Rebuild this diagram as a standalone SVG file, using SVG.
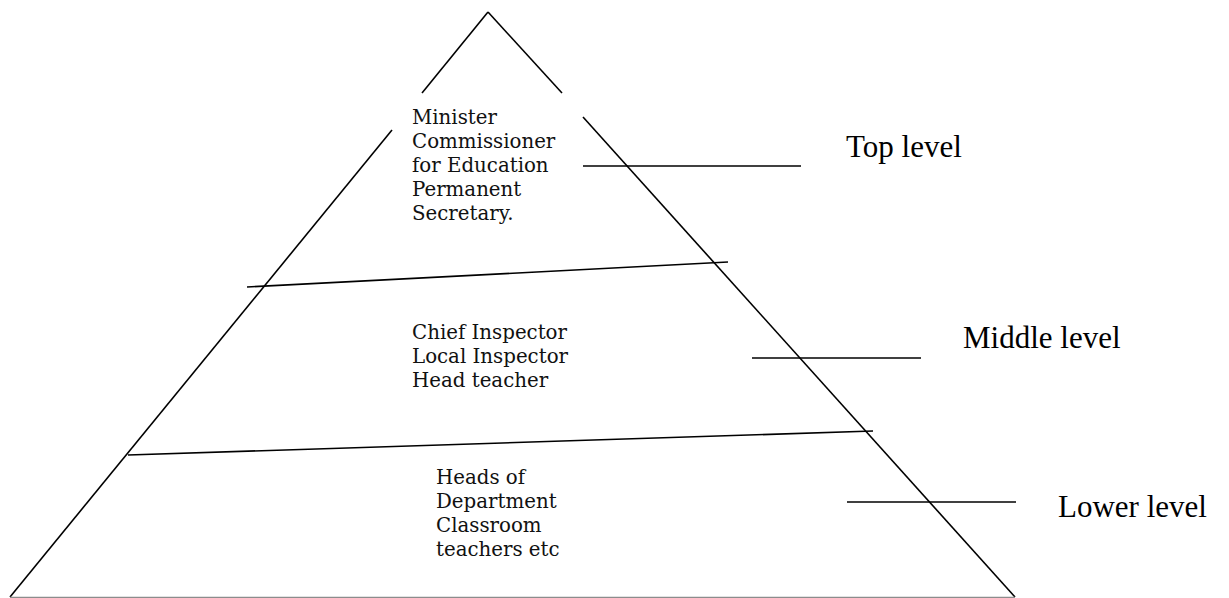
<svg xmlns="http://www.w3.org/2000/svg" width="1229" height="598" viewBox="0 0 1229 598">
  <style>
    .edge { stroke: #000; stroke-width: 1.6; fill: none; stroke-linecap: butt; }
    .base { stroke: #8c8c8c; stroke-width: 1.2; fill: none; }
    .roles { font-family: "DejaVu Serif", "Liberation Serif", serif; font-size: 19.8px; fill: #111; }
    .level { font-family: "Liberation Serif", "Times New Roman", serif; font-size: 31px; fill: #000; }
  </style>
  <rect x="0" y="0" width="1229" height="598" fill="#fff"/>

  <!-- pyramid outline, with gaps where the top block of text sits -->
  <g id="pyramid">
    <line class="edge" x1="488" y1="12" x2="422" y2="93"/>
    <line class="edge" x1="488" y1="12" x2="562" y2="93"/>
    <line class="edge" x1="392" y1="130" x2="10" y2="597"/>
    <line class="edge" x1="583" y1="117" x2="1015" y2="597"/>
    <line class="base" x1="10" y1="597.4" x2="1015" y2="597.4"/>
    <!-- tier dividers -->
    <line class="edge" x1="247" y1="287" x2="728" y2="262"/>
    <line class="edge" x1="128" y1="455" x2="873" y2="431"/>
  </g>

  <!-- tier contents -->
  <g id="top-tier">
    <text class="roles" x="412" y="124">Minister</text>
    <text class="roles" x="412" y="148">Commissioner</text>
    <text class="roles" x="412" y="172">for Education</text>
    <text class="roles" x="412" y="196">Permanent</text>
    <text class="roles" x="412" y="220">Secretary.</text>
  </g>
  <g id="middle-tier">
    <text class="roles" x="412" y="339">Chief Inspector</text>
    <text class="roles" x="412" y="363">Local Inspector</text>
    <text class="roles" x="412" y="387">Head teacher</text>
  </g>
  <g id="lower-tier">
    <text class="roles" x="436" y="484">Heads of</text>
    <text class="roles" x="436" y="508">Department</text>
    <text class="roles" x="436" y="532">Classroom</text>
    <text class="roles" x="436" y="556">teachers etc</text>
  </g>

  <!-- leader lines out to the level labels -->
  <g id="connectors">
    <line class="edge" x1="583" y1="166" x2="801" y2="166"/>
    <line class="edge" x1="752" y1="358" x2="921" y2="358"/>
    <line class="edge" x1="847" y1="502" x2="1016" y2="502"/>
  </g>

  <g id="label-top"><text class="level" x="846" y="157">Top level</text></g>
  <g id="label-middle"><text class="level" x="963" y="348">Middle level</text></g>
  <g id="label-lower"><text class="level" x="1058" y="517">Lower level</text></g>
</svg>
